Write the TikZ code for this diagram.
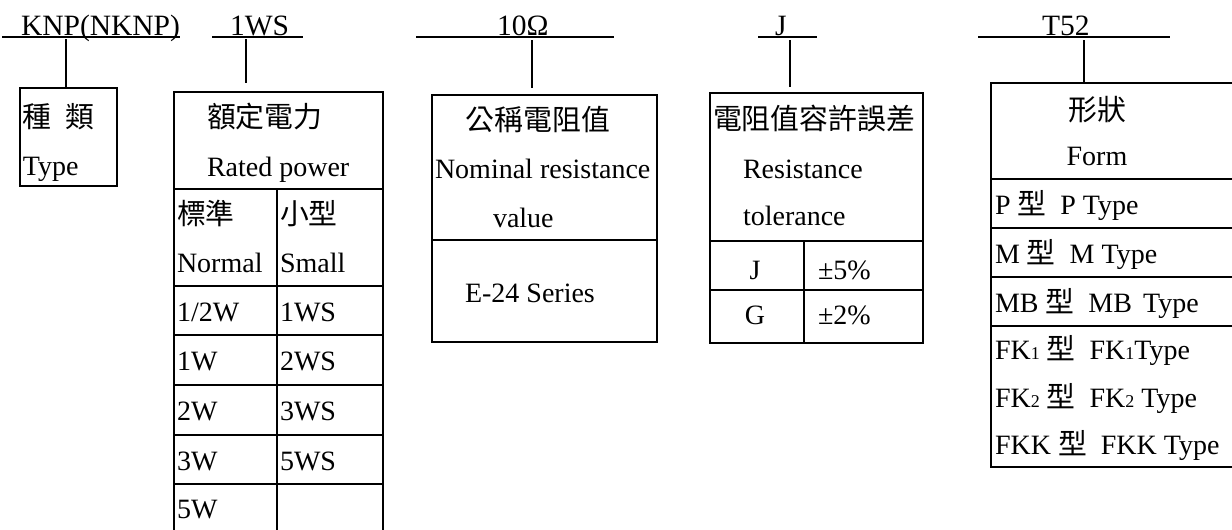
\documentclass[tikz,border=0pt]{standalone}
\usepackage{fontspec}
\setmainfont{Liberation Serif}
\newfontfamily\cjkf[Scale=1.03]{Noto Sans CJK TC}
\newcommand\cj[1]{{\cjkf #1}}
\newcommand\sm[1]{{\fontsize{18}{18}\selectfont #1}}
\begin{document}
\begin{tikzpicture}[x=1pt,y=-1pt,
  txt/.style={inner sep=0pt, outer sep=0pt, font=\fontsize{28}{30}\selectfont},
  lt/.style={txt, anchor=base west},
  ct/.style={txt, anchor=base},
  hd/.style={inner sep=0pt, outer sep=0pt, anchor=base west, font=\fontsize{29.5}{31}\selectfont},
  rulel/.style={line width=1.7pt},
  tbl/.style={line width=1.4pt}]
\fill[white] (0,0) rectangle (1232,530);
\useasboundingbox (0,0) rectangle (1232,530);

% ---------- header codes ----------
\node[hd] (h1) at (21,35) {KNP(NKNP)};
\node[hd] (h2) at (230,35) {1WS};
\node[hd] (h3) at (497,35) {10Ω};
\node[hd] (h4) at (775,35) {J};
\node[hd] (h5) at (1042,35) {T52};

\coordinate (u1a) at (2,37);    \coordinate (u1b) at (180,37);
\coordinate (u2a) at (212,37);  \coordinate (u2b) at (303,37);
\coordinate (u3a) at (416,37);  \coordinate (u3b) at (614,37);
\coordinate (u4a) at (758,37);  \coordinate (u4b) at (817,37);
\coordinate (u5a) at (978,37);  \coordinate (u5b) at (1170,37);
\draw[rulel] (u1a) -- (u1b);
\draw[rulel] (u2a) -- (u2b);
\draw[rulel] (u3a) -- (u3b);
\draw[rulel] (u4a) -- (u4b);
\draw[rulel] (u5a) -- (u5b);

% connectors
\coordinate (c1a) at (66,39);   \coordinate (c1b) at (66,88);
\coordinate (c2a) at (246,39);  \coordinate (c2b) at (246,83);
\coordinate (c3a) at (532,40);  \coordinate (c3b) at (532,88);
\coordinate (c4a) at (790,40);  \coordinate (c4b) at (790,87);
\coordinate (c5a) at (1084,40); \coordinate (c5b) at (1084,83);
\draw[rulel] (c1a) -- (c1b);
\draw[rulel] (c2a) -- (c2b);
\draw[rulel] (c3a) -- (c3b);
\draw[rulel] (c4a) -- (c4b);
\draw[rulel] (c5a) -- (c5b);

% ---------- box 1 : Type ----------
\draw[tbl] (20,88) rectangle (117,186);
\node[lt] (t1a) at (23,127) {\cj{種}\hspace{14pt}\cj{類}};
\node[lt] (t1b) at (23,175) {Type};

% ---------- box 2 : Rated power ----------
\draw[tbl] (174,530) -- (174,92) -- (383,92) -- (383,530);
\foreach \yy in {189,286,335,385,435,484} \draw[tbl] (174,\yy) -- (383,\yy);
\draw[tbl] (277,189) -- (277,530);
\node[lt] (t2a) at (207,127) {\cj{額定電力}};
\node[lt] (t2b) at (207,176) {Rated power};
\node[lt] (t2c) at (177,224) {\cj{標準}};
\node[lt] (t2d) at (177,272) {Normal};
\node[lt] (t2e) at (280,224) {\cj{小型}};
\node[lt] (t2f) at (280,272) {Small};
\node[lt] (r1a) at (177,321) {1/2W};
\node[lt] (r1b) at (280,321) {1WS};
\node[lt] (r2a) at (177,370) {1W};
\node[lt] (r2b) at (280,370) {2WS};
\node[lt] (r3a) at (177,420) {2W};
\node[lt] (r3b) at (280,420) {3WS};
\node[lt] (r4a) at (177,470) {3W};
\node[lt] (r4b) at (280,470) {5WS};
\node[lt] (r5a) at (177,518) {5W};

% ---------- box 3 : Nominal resistance ----------
\draw[tbl] (432,95) rectangle (657,342);
\draw[tbl] (432,240) -- (657,240);
\node[ct] (t3a) at (538,130) {\cj{公稱電阻值}};
\node[lt] (t3b) at (435,178) {Nominal resistance};
\node[lt] (t3c) at (493,227) {value};
\node[lt] (t3d) at (465,302) {E-24 Series};

% ---------- box 4 : Resistance tolerance ----------
\draw[tbl] (710,93) rectangle (923,343);
\draw[tbl] (710,241) -- (923,241);
\draw[tbl] (710,290) -- (923,290);
\draw[tbl] (804,241) -- (804,343);
\node[lt] (t4a) at (713,129) {\cj{電阻值容許誤差}};
\node[lt] (t4b) at (743,178) {Resistance};
\node[lt] (t4c) at (743,225) {tolerance};
\node[ct] (t4d) at (755,279) {J};
\node[lt] (t4e) at (818,279) {±5\%};
\node[ct] (t4f) at (755,324) {G};
\node[lt] (t4g) at (818,324) {±2\%};

% ---------- box 5 : Form ----------
\draw[tbl] (1240,83) -- (991,83) -- (991,467) -- (1240,467);
\foreach \yy in {179,228,277,326} \draw[tbl] (991,\yy) -- (1240,\yy);
\node[ct] (t5a) at (1097,120) {\cj{形狀}};
\node[ct] (t5b) at (1097,165) {Form};
\node[lt] (f1) at (995,214) {P \cj{型}\ \ P Type};
\node[lt] (f2) at (995,263) {M \cj{型}\ \ M Type};
\node[lt] (f3) at (995,312) {MB \cj{型}\ \ MB\hspace{0.4em}Type};
\node[lt] (f4) at (995,359) {FK\sm{1} \cj{型}\ \ FK\sm{1}Type};
\node[lt] (f5) at (995,407) {FK\sm{2} \cj{型}\ \ FK\sm{2} Type};
\node[lt] (f6) at (995,454) {FKK \cj{型}\ \ FKK Type};
\end{tikzpicture}
\end{document}
